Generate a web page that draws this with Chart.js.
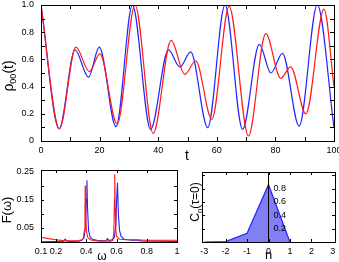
<!DOCTYPE html>
<html>
<head>
<meta charset="utf-8">
<script src="https://cdn.jsdelivr.net/npm/chart.js@4.4.0/dist/chart.umd.min.js"></script>
<style>
  body { margin: 0; background: #fff; overflow: hidden; }
  #wrap { position: relative; width: 339px; height: 262px; }
  canvas { position: absolute; }
</style>
</head>
<body>
<div id="wrap">
  <canvas id="rho" width="339" height="165" style="left:0;top:0"></canvas>
  <canvas id="spec" width="185" height="97" style="left:0;top:165px"></canvas>
  <canvas id="corr" width="154" height="97" style="left:185px;top:165px"></canvas>
</div>
<script>
// rho_00(t), turning points
let t_blue = [0, 6.2, 11.6, 16.2, 19.9, 25.6, 31.2, 37.4, 43.5, 47.4, 51.1, 56.9, 62.8, 68.8, 74.5, 78.5, 82.4, 88.1, 94.3, 100];
let rho_blue = [1.0, 0.09, 0.67, 0.47, 0.69, 0.105, 1.0, 0.086, 0.67, 0.545, 0.655, 0.098, 1.0, 0.086, 0.71, 0.50, 0.645, 0.11, 1.0, 0.10];
let t_red = [0, 6.3, 11.9, 16.5, 20.1, 26.0, 32.1, 38.3, 44.4, 49.1, 52.8, 58.3, 64.2, 70.8, 76.7, 81.8, 85.2, 90.4, 96.6, 100];
let rho_red = [1.0, 0.09, 0.69, 0.51, 0.64, 0.125, 1.0, 0.056, 0.74, 0.49, 0.59, 0.16, 0.99, 0.037, 0.79, 0.46, 0.545, 0.20, 0.97, 0.40];

// F(omega)
let w_blue = [0.10, 0.20, 0.25, 0.26, 0.27, 0.30, 0.35, 0.37, 0.385, 0.395, 0.400, 0.404, 0.408, 0.415, 0.425, 0.44, 0.47, 0.50, 0.53, 0.54, 0.55, 0.57, 0.585, 0.595, 0.600, 0.606, 0.612, 0.62, 0.63, 0.65, 0.70, 0.74, 0.76, 0.85, 1.00];
let f_blue = [0.001, 0.002, 0.003, 0.010, 0.003, 0.002, 0.003, 0.006, 0.015, 0.06, 0.15, 0.219, 0.12, 0.04, 0.018, 0.01, 0.006, 0.004, 0.005, 0.012, 0.005, 0.008, 0.015, 0.06, 0.14, 0.21, 0.10, 0.04, 0.02, 0.01, 0.006, 0.007, 0.004, 0.003, 0.002];
let w_red = [0.10, 0.15, 0.20, 0.25, 0.30, 0.35, 0.37, 0.38, 0.387, 0.391, 0.393, 0.396, 0.40, 0.41, 0.43, 0.47, 0.52, 0.56, 0.575, 0.582, 0.586, 0.588, 0.591, 0.595, 0.60, 0.62, 0.66, 0.72, 0.80, 0.90, 1.00];
let f_red = [0.017, 0.012, 0.008, 0.005, 0.004, 0.005, 0.008, 0.014, 0.04, 0.12, 0.20, 0.10, 0.04, 0.015, 0.007, 0.004, 0.003, 0.003, 0.006, 0.03, 0.15, 0.24, 0.12, 0.04, 0.02, 0.01, 0.008, 0.008, 0.006, 0.006, 0.006];

// C_n(tau=0)
let n_vals = [-3, -2, -1, 0, 1];
let c_vals = [0, 0.005, 0.13, 0.86, 0];

// tick labels
let t_labels = [0, 20, 40, 60, 80, 100];
let rho_labels = [0, 0.2, 0.4, 0.6, 0.8, 1.0];
let w_labels = [0.1, 0.2, 0.4, 0.6, 0.8, 1];
let f_labels = [0.05, 0.15, 0.25];
let n_labels = [-3, -2, -1, 0, 1, 2, 3];
let c_labels = [0.2, 0.4, 0.6, 0.8];

const RED = "rgb(255,25,25)";
const BLUE = "rgb(35,35,255)";
const FONT = '"Liberation Sans", Arial, sans-serif';

Chart.defaults.animation = false;
Chart.defaults.font.family = FONT;
Chart.defaults.font.size = 9;
Chart.defaults.color = "#000";

function pts(xs, ys) {
  return xs.map((v, i) => ({ x: v, y: ys[i] }));
}

function drawTitle(ctx, tt) {
  ctx.save();
  ctx.translate(tt.x, tt.y);
  if (tt.rot) ctx.rotate(-Math.PI / 2);
  let big = tt.size + "px " + FONT;
  let small = Math.round(tt.size * 0.65) + "px " + FONT;
  let w = 0;
  tt.parts.forEach(p => { ctx.font = p[1] ? small : big; w += ctx.measureText(p[0]).width; });
  let cx = -w / 2;
  ctx.textBaseline = "middle";
  ctx.fillStyle = "#000";
  tt.parts.forEach(p => {
    ctx.font = p[1] ? small : big;
    ctx.fillText(p[0], cx, p[1] ? tt.size * 0.32 : 0);
    cx += ctx.measureText(p[0]).width;
  });
  ctx.restore();
}

// box round the plot, gnuplot-like inward ticks, axis titles
const framePlugin = {
  id: "frame",
  afterDraw(chart, args, o) {
    const { ctx, chartArea: a, scales: { x, y } } = chart;
    ctx.save();
    ctx.strokeStyle = "#000";
    ctx.lineWidth = 1;
    ctx.beginPath();
    o.xt.forEach(v => {
      let p = Math.round(x.getPixelForValue(v)) + 0.5;
      ctx.moveTo(p, a.bottom); ctx.lineTo(p, a.bottom - o.len);
      ctx.moveTo(p, a.top); ctx.lineTo(p, a.top + o.len);
    });
    o.yt.forEach(v => {
      let p = Math.round(y.getPixelForValue(v)) + 0.5;
      ctx.moveTo(a.left, p); ctx.lineTo(a.left + o.len, p);
      ctx.moveTo(a.right, p); ctx.lineTo(a.right - o.len, p);
    });
    ctx.stroke();
    ctx.strokeRect(Math.round(a.left) + 0.5, Math.round(a.top) + 0.5, Math.round(a.right - a.left), Math.round(a.bottom - a.top));
    o.titles.forEach(tt => drawTitle(ctx, tt));
    ctx.restore();
  }
};

function setTicks(list) {
  return s => { s.ticks = list.map(v => ({ value: v })); };
}

// fixed axis band sizes, no extra label overhang padding
function fitX(h) {
  return s => { s.height = h; s.paddingLeft = 0; s.paddingRight = 0; };
}
function fitY(w) {
  return s => { s.width = w; s.paddingTop = 0; s.paddingBottom = 0; };
}

// top panel
new Chart(document.getElementById("rho"), {
  type: "line",
  data: {
    datasets: [
      { data: pts(t_red, rho_red), borderColor: RED, borderWidth: 1.2, pointRadius: 0, cubicInterpolationMode: "monotone" },
      { data: pts(t_blue, rho_blue), borderColor: BLUE, borderWidth: 1.2, pointRadius: 0, cubicInterpolationMode: "monotone" },
    ],
  },
  options: {
    responsive: false,
    layout: { padding: { left: 0, top: 5, right: 5, bottom: 0 } },
    plugins: {
      legend: { display: false },
      tooltip: { enabled: false },
      frame: {
        len: 4,
        xt: [10, 20, 30, 40, 50, 60, 70, 80, 90],
        yt: [0.1, 0.2, 0.3, 0.4, 0.5, 0.6, 0.7, 0.8, 0.9],
        titles: [
          { x: 9, y: 76, rot: true, size: 14, parts: [["ρ"], ["00", true], ["(t)"]] },
          { x: 187, y: 156, size: 14, parts: [["t"]] },
        ],
      },
    },
    scales: {
      x: {
        type: "linear", min: 0, max: 100,
        grid: { display: false, drawTicks: false }, border: { display: false },
        afterBuildTicks: setTicks(t_labels),
        afterFit: fitX(24),
        ticks: { padding: 4, maxRotation: 0, callback: v => String(v) },
      },
      y: {
        min: 0, max: 1,
        grid: { display: false, drawTicks: false }, border: { display: false },
        afterBuildTicks: setTicks(rho_labels),
        afterFit: fitY(41),
        ticks: { padding: 7, callback: v => (v === 0 ? "0" : v.toFixed(1)) },
      },
    },
  },
  plugins: [framePlugin],
});

// bottom left: F(omega)
new Chart(document.getElementById("spec"), {
  type: "line",
  data: {
    datasets: [
      { data: pts(w_red, f_red), borderColor: RED, borderWidth: 1.1, pointRadius: 0, tension: 0 },
      { data: pts(w_blue, f_blue), borderColor: BLUE, borderWidth: 1.1, pointRadius: 0, tension: 0 },
    ],
  },
  options: {
    responsive: false,
    layout: { padding: { left: 0, top: 5, right: 8, bottom: 0 } },
    plugins: {
      legend: { display: false },
      tooltip: { enabled: false },
      frame: {
        len: 3,
        xt: [0.2, 0.4, 0.6, 0.8],
        yt: [0.05, 0.1, 0.15, 0.2],
        titles: [
          { x: 7, y: 45, rot: true, size: 13, parts: [["F(ω)"]] },
          { x: 102, y: 92, size: 12, parts: [["ω"]] },
        ],
      },
    },
    scales: {
      x: {
        type: "linear", min: 0.1, max: 1,
        grid: { display: false, drawTicks: false }, border: { display: false },
        afterBuildTicks: setTicks(w_labels),
        afterFit: fitX(20),
        ticks: { padding: 4, maxRotation: 0, callback: v => String(v) },
      },
      y: {
        min: 0, max: 0.255,
        grid: { display: false, drawTicks: false }, border: { display: false },
        afterBuildTicks: setTicks(f_labels),
        afterFit: fitY(41),
        ticks: { padding: 7, callback: v => v.toFixed(2) },
      },
    },
  },
  plugins: [framePlugin],
});

// bottom right: C_n(tau=0); the n = 0 axis line and its labels sit above the fill
new Chart(document.getElementById("corr"), {
  type: "line",
  data: {
    datasets: [
      {
        data: pts(n_vals, c_vals), borderColor: BLUE, borderWidth: 1.2, pointRadius: 0, tension: 0,
        fill: "origin", backgroundColor: "rgb(128,128,244)",
      },
    ],
  },
  options: {
    responsive: false,
    layout: { padding: { left: 0, top: 7, right: 4, bottom: 0 } },
    plugins: {
      legend: { display: false },
      tooltip: { enabled: false },
      frame: {
        len: 3,
        xt: [-2, -1, 0, 1, 2],
        yt: [0.2, 0.4, 0.6, 0.8, 1.0],
        titles: [
          { x: 11, y: 37, rot: true, size: 12, parts: [["C"], ["n", true], ["(τ=0)"]] },
          { x: 83.5, y: 90, size: 13, parts: [["n"]] },
        ],
      },
    },
    scales: {
      x: {
        type: "linear", min: -3.1, max: 3.1,
        grid: { display: true, z: 1, drawTicks: false, lineWidth: 1, color: c => (c.tick && c.tick.value === 0 ? "#000" : "rgba(0,0,0,0)") },
        border: { display: false },
        afterBuildTicks: setTicks(n_labels),
        afterFit: fitX(20),
        ticks: { padding: 4, maxRotation: 0, callback: v => String(v) },
      },
      y: {
        min: 0, max: 1.05,
        grid: { display: false, drawTicks: false }, border: { display: false },
        afterBuildTicks: setTicks(c_labels),
        afterFit: fitY(17),
        ticks: { z: 1, mirror: true, padding: 71.5, callback: v => v.toFixed(1) },
      },
    },
  },
  plugins: [framePlugin],
});
</script>
</body>
</html>
